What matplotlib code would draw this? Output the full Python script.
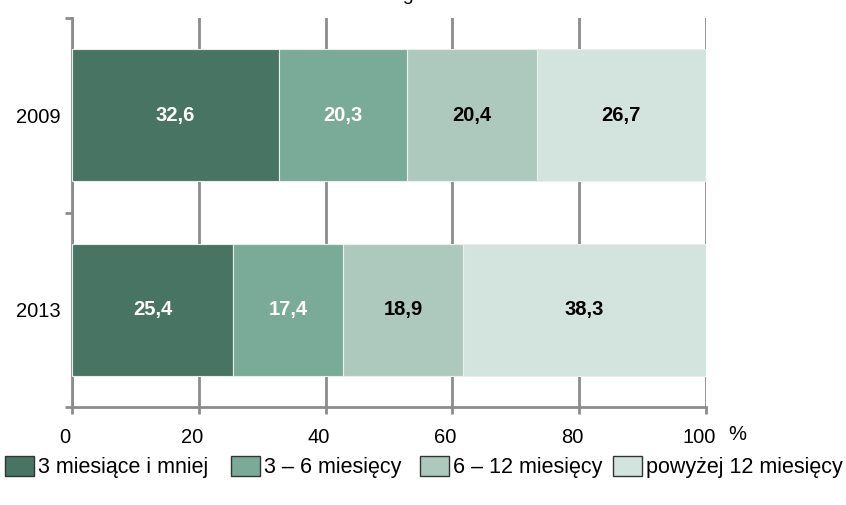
import matplotlib
matplotlib.use("Agg")
import matplotlib.pyplot as plt
from matplotlib.transforms import ScaledTranslation
import numpy as np

plt.rcParams['font.family'] = ['Liberation Sans', 'DejaVu Sans']

years = ["2009", "2013"]
categories = ["3 miesiące i mniej", "3 – 6 miesięcy", "6 – 12 miesięcy", "powyżej 12 miesięcy"]
values = {
    "3 miesiące i mniej": [32.6, 25.4],
    "3 – 6 miesięcy": [20.3, 17.4],
    "6 – 12 miesięcy": [20.4, 18.9],
    "powyżej 12 miesięcy": [26.7, 38.3],
}
colors = ["#487563", "#7aab98", "#adc9bd", "#d3e4de"]
label_colors = ["white", "white", "black", "black"]
xticks = [0, 20, 40, 60, 80, 100]

fig = plt.figure(figsize=(8.46, 5.05), dpi=100)
ax = fig.add_axes([72/846, 1-407/505, (706-72)/846, (407-18)/505])

ypos = np.arange(len(years))
left = np.zeros(len(years))
handles = []
for cat, col, lc in zip(categories, colors, label_colors):
    v = np.array(values[cat])
    b = ax.barh(ypos, v, left=left, height=0.68, color=col, edgecolor="#e8eeeb",
                linewidth=0.8, zorder=3)
    handles.append(b)
    for y, l, w in zip(ypos, left, v):
        ax.text(l + w/2, y, f"{w:.1f}".replace(".", ","), ha="center", va="center",
                color=lc, fontsize=14.5, fontweight="bold", zorder=4)
    left = left + v

ax.set_xlim(0, 100)
ax.set_ylim(1.5, -0.5)
ax.set_xticks(xticks)
ax.set_xticklabels([str(t) for t in xticks], fontsize=14.5)
ax.set_yticks(ypos)
ax.set_yticklabels(years, fontsize=14.5)
ax.set_yticks([-0.5, 0.5, 1.5], minor=True)
ax.tick_params(axis="y", which="major", length=0, pad=8)
ax.tick_params(axis="y", which="minor", length=5, width=2, color="#8c8c8c")
ax.tick_params(axis="x", which="major", length=5, width=2, color="#8c8c8c", pad=10)
ax.grid(axis="x", color="#8c8c8c", linewidth=2, zorder=0)
ax.set_axisbelow(True)
for s in ["top", "right"]:
    ax.spines[s].set_visible(False)
for s in ["left", "bottom"]:
    ax.spines[s].set_color("#8c8c8c")
    ax.spines[s].set_linewidth(2)

shift = ScaledTranslation(-7/100, 0, fig.dpi_scale_trans)
for lab in ax.get_xticklabels():
    lab.set_transform(lab.get_transform() + shift)

fig.text(737/846, 1-434/505, "%", ha="center", va="center", fontsize=14.5)
fig.text(368/846, 1.0, "Stan w dniu 31 grudnia", ha="center", va="baseline", fontsize=14)

leg_x = [5, 231, 420, 613]
for h, cat, lx in zip(handles, categories, leg_x):
    leg = fig.legend([h], [cat], loc="center left", bbox_to_anchor=(lx/846, 1-467/505),
                     frameon=False, fontsize=15.5, handlelength=1.35, handleheight=1.1,
                     handletextpad=0.2, borderaxespad=0, borderpad=0)
    for lh in leg.legend_handles:
        lh.set_edgecolor("#333333")
        lh.set_linewidth(1.0)

fig.savefig("out.png", dpi=100)
